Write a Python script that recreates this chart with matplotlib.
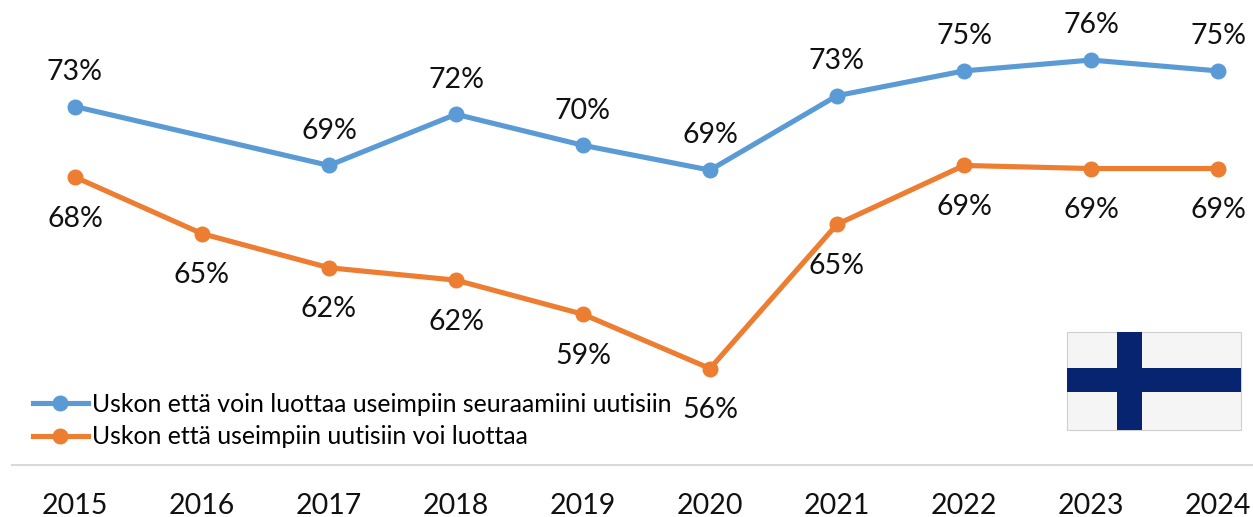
import matplotlib
matplotlib.use('Agg')
import matplotlib.pyplot as plt
from matplotlib.patches import Rectangle

plt.rcParams['font.family'] = ['Lato', 'DejaVu Sans']

years = [2015, 2016, 2017, 2018, 2019, 2020, 2021, 2022, 2023, 2024]
# 2016 has no value in the blue series
blue_years = [2015, 2017, 2018, 2019, 2020, 2021, 2022, 2023, 2024]
blue_vals = [72.9, 69.1, 72.4, 70.4, 68.8, 73.6, 75.2, 75.9, 75.2]
blue_labels = ['73%', '69%', '72%', '70%', '69%', '73%', '75%', '76%', '75%']
orange_vals = [68.35, 64.7, 62.5, 61.7, 59.5, 56.0, 65.3, 69.1, 68.9, 68.9]
orange_labels = ['68%', '65%', '62%', '62%', '59%', '56%', '65%', '69%', '69%', '69%']
blue_name = 'Uskon että voin luottaa useimpiin seuraamiini uutisiin'
orange_name = 'Uskon että useimpiin uutisiin voi luottaa'

W, H = 1253, 517
BLUE = '#5B9BD5'
ORANGE = '#ED7D31'

fig = plt.figure(figsize=(W/100, H/100), dpi=100)
ax = fig.add_axes([12/W, 1-465/H, (W-12)/W, 465/H])
ax.patch.set_alpha(0)

# pixel layout of the reference: 127 px per year, 15.5 px per percent
ax.set_xlim(2015+(12-75)/127, 2015+(W-75)/127)
ax.set_ylim(69+(167-465)/15.5, 69+167/15.5)

ax.plot(blue_years, blue_vals, color=BLUE, lw=3.7, marker='o', ms=10.5, label=blue_name, clip_on=False)
ax.plot(years, orange_vals, color=ORANGE, lw=3.7, marker='o', ms=10.5, label=orange_name, clip_on=False)

for x, y, t in zip(blue_years, blue_vals, blue_labels):
    ax.annotate(t, (x, y), xytext=(0, 25), textcoords='offset points', ha='center', va='center',
                fontsize=20.5, color='#111111')
for x, y, t in zip(years, orange_vals, orange_labels):
    ax.annotate(t, (x, y), xytext=(0, -30), textcoords='offset points', ha='center', va='center',
                fontsize=20.5, color='#111111')

for s in ['top', 'left', 'right']:
    ax.spines[s].set_visible(False)
ax.spines['bottom'].set_color('#D9D9D9')
ax.spines['bottom'].set_linewidth(1.5)
ax.set_yticks([])
ax.set_xticks(years)
ax.set_xticklabels(years, fontsize=20.5, color='#111111')
ax.tick_params(axis='x', length=0, pad=20.5)

leg = ax.legend(loc='upper left', bbox_to_anchor=(33/W, 1-392.5/H), bbox_transform=fig.transFigure,
                frameon=False, fontsize=17.9, handlelength=2.2, handletextpad=0.16,
                labelspacing=0.4, borderpad=0, borderaxespad=0)

# flag
fig.add_artist(Rectangle((1067/W, 1-430/H), 174/W, 98/H, transform=fig.transFigure,
                         fc='#F5F5F6', ec='#CFCFCF', lw=0.8))
fig.add_artist(Rectangle((1117/W, 1-430/H), 24.5/W, 98/H, transform=fig.transFigure, fc='#06246F', ec='none'))
fig.add_artist(Rectangle((1067/W, 1-392/H), 174/W, 24.5/H, transform=fig.transFigure, fc='#06246F', ec='none'))

fig.savefig('out.png', dpi=100)
